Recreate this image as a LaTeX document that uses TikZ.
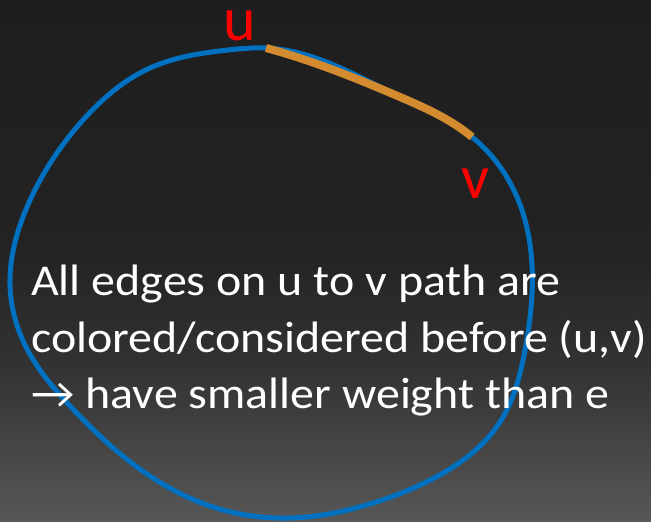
\documentclass[tikz,border=0pt]{standalone}
\usepackage{fontspec}
\usepackage{graphicx}
\usetikzlibrary{hobby}
\setmainfont{Carlito}
\definecolor{bgA}{HTML}{1E1E1E}
\definecolor{bgB}{HTML}{232323}
\definecolor{bgC}{HTML}{333333}
\definecolor{bgD}{HTML}{575757}
\definecolor{cycblue}{HTML}{0070C0}
\definecolor{pathorange}{HTML}{D48B2F}
\pgfdeclareverticalshading{bgshade}{100bp}{color(0bp)=(bgD); color(25bp)=(bgD); color(39.6bp)=(bgC); color(51bp)=(bgB); color(75bp)=(bgA); color(100bp)=(bgA)}
\newcommand{\wide}[1]{\scalebox{1.09}[1]{#1}}
\tikzset{
  cyc/.style={draw=cycblue, line width=5pt},
  upath/.style={draw=pathorange, line width=8pt},
  vlabel/.style={text=red, font=\fontsize{62}{62}\selectfont, inner sep=0pt, text height=30pt, text depth=0pt},
  bodytext/.style={text=white, font=\fontsize{44}{57}\selectfont, inner sep=0pt, anchor=base west}
}
\begin{document}
\begin{tikzpicture}[x=1pt,y=-1pt]
\fill[shading=bgshade] (0,0) rectangle (651,522);
\useasboundingbox (0,0) rectangle (651,522);
\coordinate (u) at (266,48);
\coordinate (v) at (472,137);
\draw[cyc, use Hobby shortcut, closed=true] (228,50) .. (u) .. (400,97) .. (v) .. (517,197) .. (532,265) .. (525,350) .. (500,422) .. (436,477) .. (373,503) .. (290,518) .. (210,506) .. (124,457) .. (71,407) .. (25,345) .. (10,285) .. (27,207) .. (83,120) .. (150,68);
\draw[upath, use Hobby shortcut] ([out angle=-15]u) .. (400,97) .. ([in angle=140]v);
\node[vlabel, anchor=base] (ulab) at (240,40) {u};
\node[vlabel, anchor=base] (vlab) at (475,198) {v};
\node[bodytext] (l1) at (31,295) {\wide{All edges on u to v path are}};
\node[bodytext] (l2) at (31,352) {\wide{colored/considered before (u,v)}};
\node[bodytext] (l3) at (31,408) {\wide{→ have smaller weight than e}};
\end{tikzpicture}
\end{document}
